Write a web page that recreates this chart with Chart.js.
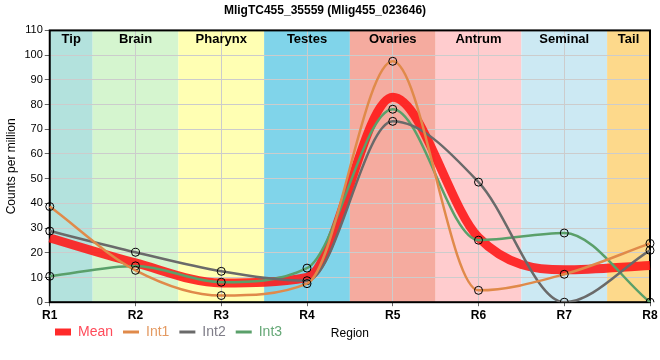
<!DOCTYPE html>
<html><head><meta charset="utf-8">
<script src="https://cdn.jsdelivr.net/npm/chart.js@4/dist/chart.umd.min.js"></script>
<style>html,body{margin:0;padding:0;background:#fff;}#wrap{width:660px;height:360px;position:relative;}</style>
</head><body><div id="wrap"><canvas id="c"></canvas></div>
<script>
// ---- data ----
const categories = ['R1','R2','R3','R4','R5','R6','R7','R8'];
const regions = ['Tip','Brain','Pharynx','Testes','Ovaries','Antrum','Seminal','Tail'];
const meanValues = [26.0, 15.9, 7.8, 10.0, 82.9, 26.2, 13.1, 14.9];
const int1Values = [38.7, 12.9, 2.7, 7.5, 97.5, 4.8, 11.3, 23.8];
const int2Values = [28.8, 20.2, 12.5, 8.7, 73.2, 48.6, 0.0, 21.0];
const int3Values = [10.5, 14.7, 8.1, 13.8, 78.1, 25.1, 28.0, 0.0];
const seriesNames = ['Mean','Int1','Int2','Int3'];
const yMin = 0, yMax = 110, yStep = 10;

// ---- styles ----
const regionColors = ['#b3e2dd','#d5f5cf','#ffffb3','#80d4ea','#f5ab9f','#ffccce','#cce9f3','#fdd98b'];
const lineColors = ['rgba(255,22,22,0.88)','#e08a4a','#6a6a6a','#5aa06a'];
const legendTextColors = ['#ff4b5a','#e49a62','#7f7d88','#66a877'];

Chart.defaults.font.family = '"Liberation Sans", Arial, sans-serif';
Chart.defaults.color = '#000';

const bandsPlugin = {
  id: 'bands',
  beforeDraw(chart) {
    const {ctx, chartArea: a, scales: {x}} = chart;
    ctx.save();
    regions.forEach((r, i) => {
      const l = Math.max(a.left, x.getPixelForValue(i - 0.5));
      const rr = Math.min(a.right, x.getPixelForValue(i + 0.5));
      ctx.fillStyle = regionColors[i];
      ctx.fillRect(l, a.top, rr - l, a.bottom - a.top);
    });
    ctx.restore();
  },
  beforeDatasetsDraw(chart) {
    const {ctx, chartArea: a, scales: {x}} = chart;
    ctx.save();
    ctx.font = 'bold 13px "Liberation Sans", Arial, sans-serif';
    ctx.fillStyle = '#000';
    ctx.textAlign = 'center';
    ctx.textBaseline = 'middle';
    regions.forEach((r, i) => {
      const l = Math.max(a.left, x.getPixelForValue(i - 0.5));
      const rr = Math.min(a.right, x.getPixelForValue(i + 0.5));
      ctx.fillText(r, (l + rr) / 2, a.top + 9);
    });
    ctx.strokeStyle = '#000';
    ctx.lineWidth = 2;
    ctx.strokeRect(a.left, a.top, a.right - a.left, a.bottom - a.top);
    ctx.restore();
  },
  afterLayout(chart) {
    const lg = chart.legend;
    if (!lg) return;
    const w = lg.width, h = lg.height;
    lg.left = 45; lg.right = 45 + w;
    lg.top = 315; lg.bottom = 315 + h;
  }
};

const mk = (i, data) => ({
  label: seriesNames[i],
  data: data,
  borderColor: lineColors[i],
  backgroundColor: lineColors[i],
  borderWidth: i === 0 ? 9 : 2.5,
  pointRadius: i === 0 ? 0 : 4,
  pointHoverRadius: i === 0 ? 0 : 4,
  pointBorderColor: '#000',
  pointBorderWidth: 1,
  pointBackgroundColor: 'rgba(255,255,255,0)',
  cubicInterpolationMode: 'monotone',
  fill: false,
  order: i === 0 ? 1 : 0
});

new Chart(document.getElementById('c'), {
  type: 'line',
  data: {
    labels: categories,
    datasets: [mk(0, meanValues), mk(1, int1Values), mk(2, int2Values), mk(3, int3Values)]
  },
  options: {
    responsive: true,
    maintainAspectRatio: false,
    animation: false,
    events: [],
    layout: { padding: { top: 3, left: 0, right: 10, bottom: -19 } },
    plugins: {
      title: {
        display: true,
        text: 'MligTC455_35559 (Mlig455_023646)',
        font: { size: 12, weight: 'bold' },
        color: '#000',
        padding: { top: 0, bottom: 13 }
      },
      legend: {
        position: 'bottom',
        align: 'start',
        labels: {
          usePointStyle: true,
          pointStyleWidth: 16,
          font: { size: 14 },
          padding: 10,
          sort: (a, b) => a.datasetIndex - b.datasetIndex,
          generateLabels(chart) {
            return chart.data.datasets.map((ds, i) => ({
              text: ds.label,
              fillStyle: lineColors[i],
              strokeStyle: i === 0 ? '#ff2a2a' : lineColors[i],
              lineWidth: i === 0 ? 7 : 3,
              lineCap: 'butt',
              pointStyle: 'line',
              fontColor: legendTextColors[i],
              hidden: false,
              datasetIndex: i
            }));
          }
        }
      },
      tooltip: { enabled: false }
    },
    scales: {
      x: {
        offset: false,
        grid: { color: '#cccccc', lineWidth: 1, tickLength: 4, tickColor: '#666' },
        border: { display: false },
        ticks: { font: { size: 12, weight: 'bold' }, color: '#000', padding: 2, maxRotation: 0 },
        title: { display: true, text: 'Region', font: { size: 12 }, color: '#000', padding: { top: 2, bottom: 4 } }
      },
      y: {
        min: yMin, max: yMax,
        grid: { color: '#cccccc', lineWidth: 1, tickLength: 5, tickColor: '#666' },
        border: { display: false },
        ticks: { stepSize: yStep, font: { size: 11 }, color: '#000', padding: 2 },
        title: { display: true, text: 'Counts per million', font: { size: 12 }, color: '#000', padding: { top: 4, bottom: 4 } }
      }
    }
  },
  plugins: [bandsPlugin]
});
</script>
</body></html>
